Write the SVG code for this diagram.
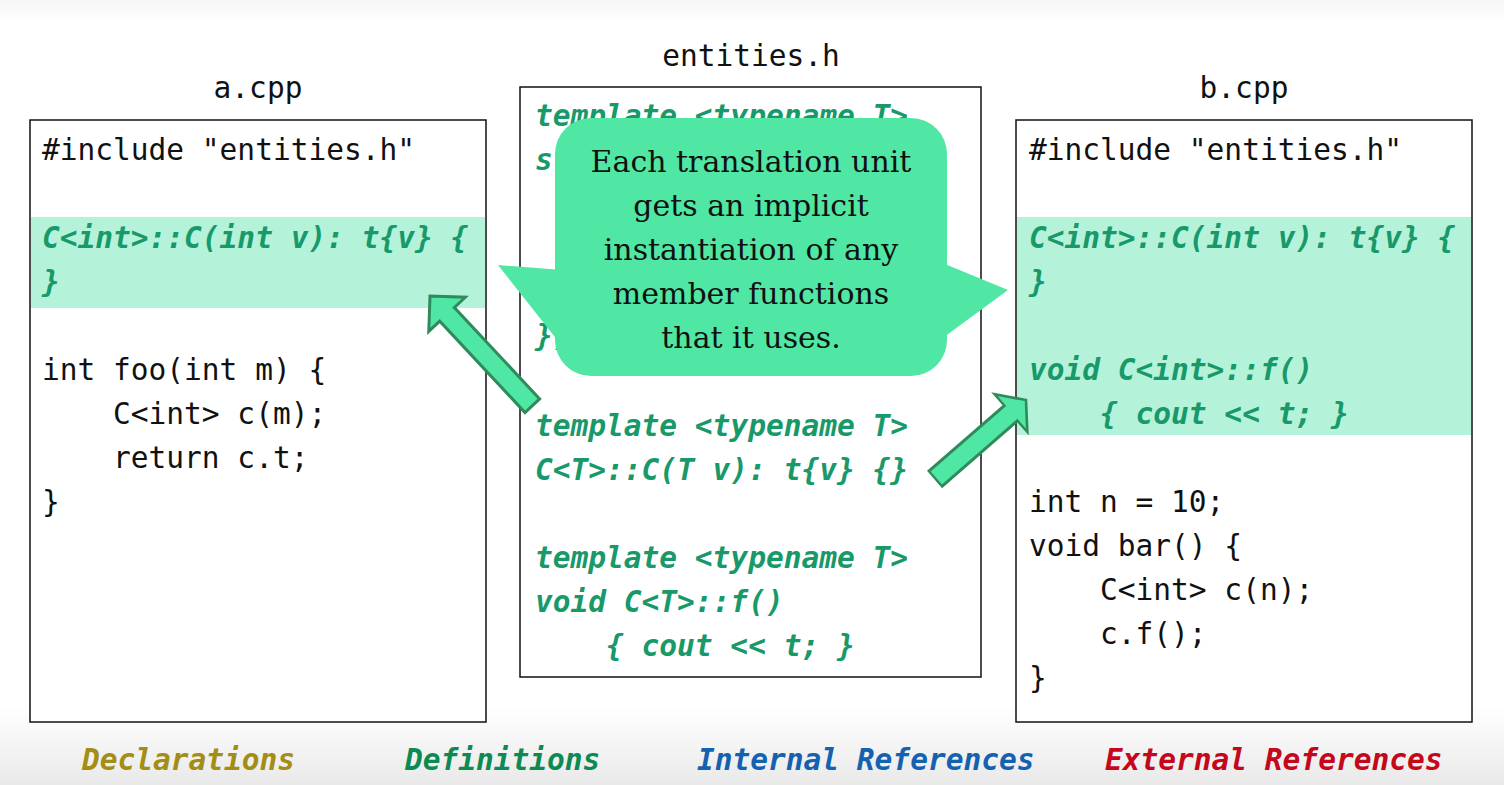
<svg xmlns="http://www.w3.org/2000/svg" width="1504" height="785" viewBox="0 0 1504 785">
  <defs>
    <linearGradient id="bg" x1="0" y1="0" x2="0" y2="1">
      <stop offset="0" stop-color="#f6f6f6"/>
      <stop offset="0.03" stop-color="#ffffff"/>
      <stop offset="0.9" stop-color="#ffffff"/>
      <stop offset="1" stop-color="#e9e9e9"/>
    </linearGradient>
    <!-- block arrow pointing along +x, tip at origin -->
    <path id="blockArrow" d="M0,0 L-25,-25 L-25,-10 L-150,-10 L-150,10 L-25,10 L-25,25 Z"/>
  </defs>
  <style>
    .box { fill: #ffffff; stroke: #111111; stroke-width: 1.5; }
    .hl { fill: #b4f3da; }
    .code { font-family: "DejaVu Sans Mono", "Liberation Mono", monospace; font-size: 29.5px; fill: #111111; white-space: pre; }
    .def { font-family: "DejaVu Sans Mono", "Liberation Mono", monospace; font-size: 29.5px; font-style: italic; font-weight: bold; fill: #17996a; white-space: pre; }
    .title { font-family: "DejaVu Sans Mono", "Liberation Mono", monospace; font-size: 29.5px; fill: #111111; text-anchor: middle; }
    .legend { font-family: "DejaVu Sans Mono", "Liberation Mono", monospace; font-size: 29.5px; font-style: italic; font-weight: bold; }
    .callout { fill: #50e6a4; }
    .callText { font-family: "DejaVu Serif", "Liberation Serif", serif; font-size: 30px; fill: #111111; text-anchor: middle; }
    .arrow { fill: #50e6a4; stroke: #2f8a5c; stroke-width: 3; stroke-linejoin: miter; }
  </style>

  <rect width="1504" height="785" fill="url(#bg)"/>

  <!-- a.cpp -->
  <g id="a-cpp">
    <text class="title" x="258" y="98">a.cpp</text>
    <rect class="box" x="30" y="120" width="456" height="602"/>
    <rect class="hl" x="31" y="217" width="454" height="91"/>
    <text class="code" x="42" y="160">#include "entities.h"</text>
    <text class="def" x="42" y="248">C&lt;int&gt;::C(int v): t{v} {</text>
    <text class="def" x="42" y="292">}</text>
    <text class="code" x="42" y="380">int foo(int m) {</text>
    <text class="code" x="42" y="424">    C&lt;int&gt; c(m);</text>
    <text class="code" x="42" y="468">    return c.t;</text>
    <text class="code" x="42" y="512">}</text>
  </g>

  <!-- entities.h -->
  <g id="entities-h">
    <text class="title" x="751" y="66">entities.h</text>
    <rect class="box" x="520" y="87" width="461" height="590"/>
    <text class="def" x="535" y="126">template &lt;typename T&gt;</text>
    <text class="def" x="535" y="170">st</text>
    <text class="def" x="535" y="346">};</text>
    <text class="def" x="535" y="436">template &lt;typename T&gt;</text>
    <text class="def" x="535" y="480">C&lt;T&gt;::C(T v): t{v} {}</text>
    <text class="def" x="535" y="568">template &lt;typename T&gt;</text>
    <text class="def" x="535" y="612">void C&lt;T&gt;::f()</text>
    <text class="def" x="535" y="656">    { cout &lt;&lt; t; }</text>
  </g>

  <!-- b.cpp -->
  <g id="b-cpp">
    <text class="title" x="1244" y="98">b.cpp</text>
    <rect class="box" x="1016" y="120" width="456" height="602"/>
    <rect class="hl" x="1017" y="217" width="454" height="218"/>
    <text class="code" x="1029" y="160">#include "entities.h"</text>
    <text class="def" x="1029" y="248">C&lt;int&gt;::C(int v): t{v} {</text>
    <text class="def" x="1029" y="292">}</text>
    <text class="def" x="1029" y="380">void C&lt;int&gt;::f()</text>
    <text class="def" x="1029" y="424">    { cout &lt;&lt; t; }</text>
    <text class="code" x="1029" y="512">int n = 10;</text>
    <text class="code" x="1029" y="556">void bar() {</text>
    <text class="code" x="1029" y="600">    C&lt;int&gt; c(n);</text>
    <text class="code" x="1029" y="644">    c.f();</text>
    <text class="code" x="1029" y="688">}</text>
  </g>

  <!-- speech bubble with pointers to both translation units -->
  <g id="callout">
    <polygon class="callout" points="498,265 562,270 562,346"/>
    <polygon class="callout" points="940,262 1008,290 940,340"/>
    <rect class="callout" x="555" y="118" width="392" height="258" rx="36" ry="36"/>
    <text class="callText" x="751" y="172">Each translation unit</text>
    <text class="callText" x="751" y="216">gets an implicit</text>
    <text class="callText" x="751" y="260">instantiation of any</text>
    <text class="callText" x="751" y="304">member functions</text>
    <text class="callText" x="751" y="348">that it uses.</text>
  </g>

  <!-- connectors -->
  <g id="connectors">
    <use href="#blockArrow" class="arrow" transform="translate(430,296) rotate(-133)"/>
    <use href="#blockArrow" class="arrow" transform="translate(1026,400) rotate(-41) scale(0.8,1)"/>
  </g>

  <!-- legend -->
  <g id="legend">
    <text class="legend" x="82" y="770" fill="#a38d14">Declarations</text>
    <text class="legend" x="405" y="770" fill="#0b8a52">Definitions</text>
    <text class="legend" x="697" y="770" fill="#1461b0">Internal References</text>
    <text class="legend" x="1105" y="770" fill="#c4071b">External References</text>
  </g>
</svg>
